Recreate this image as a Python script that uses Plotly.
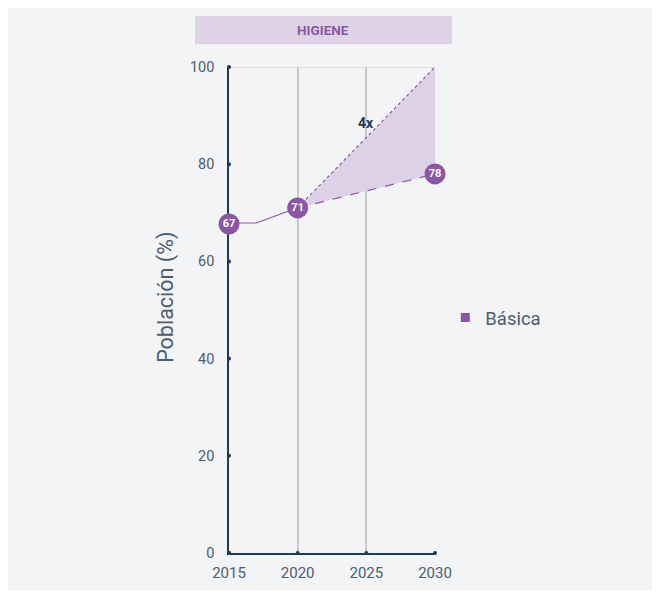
import plotly.graph_objects as go

years_hist = [2015, 2016, 2017, 2018, 2019, 2020]
vals_hist = [67.7, 67.9, 67.9, 69.0, 70.0, 71.0]
proj_years = [2020, 2030]
proj_basic = [71.0, 78.0]
proj_target = [71.0, 100.0]
label_years = [2015, 2020, 2030]
label_vals = [67.7, 71.0, 78.0]
label_text = ["67", "71", "78"]
x_ticks = [2015, 2020, 2025, 2030]
y_ticks = [0, 20, 40, 60, 80, 100]

PURPLE = "#8b57a5"
FILL = "#ddd2e5"
NAVY = "#1d3a56"
TXT = "#4d5d70"
GRID = "#c8c8cc"
FONT = "Roboto"

fig = go.Figure()

fig.add_trace(go.Scatter(x=proj_years, y=proj_basic, mode="lines",
                         line=dict(color=PURPLE, width=1.2, dash="dash"),
                         showlegend=False, hoverinfo="skip"))
fig.add_trace(go.Scatter(x=proj_years, y=proj_target, mode="lines",
                         line=dict(color=PURPLE, width=1.2, dash="dot"),
                         fill="tonexty", fillcolor=FILL,
                         showlegend=False, hoverinfo="skip"))
fig.add_trace(go.Scatter(x=years_hist, y=vals_hist, mode="lines",
                         line=dict(color=PURPLE, width=1.2),
                         showlegend=False, hoverinfo="skip"))

fig.add_trace(go.Scatter(x=x_ticks, y=[0] * len(x_ticks), mode="markers",
                         marker=dict(color=NAVY, size=4), cliponaxis=False,
                         showlegend=False, hoverinfo="skip"))
fig.add_trace(go.Scatter(x=[2015] * len(y_ticks), y=y_ticks, mode="markers",
                         marker=dict(color=NAVY, size=4), cliponaxis=False,
                         showlegend=False, hoverinfo="skip"))

fig.add_trace(go.Scatter(x=label_years, y=label_vals, mode="markers+text",
                         text=label_text, textposition="middle center",
                         textfont=dict(color="white", size=11, family=FONT, weight="bold"),
                         marker=dict(color=PURPLE, size=21), cliponaxis=False,
                         showlegend=False, hoverinfo="skip"))

fig.add_trace(go.Scatter(x=[None], y=[None], mode="markers", name="Básica",
                         marker=dict(color=PURPLE, size=9, symbol="square")))

shapes = [
    dict(type="rect", xref="paper", yref="paper", x0=-1.0825, x1=2.063, y0=-0.0761, y1=1.1255,
         fillcolor="#f3f4f6", line=dict(width=0), layer="below"),
    dict(type="rect", xref="paper", yref="paper", x0=-0.165, x1=1.0825, y0=1.047, y1=1.105,
         fillcolor="#ded3e4", line=dict(width=0), layer="below"),
    dict(type="line", xref="paper", yref="y", x0=0, x1=1, y0=100, y1=100,
         line=dict(color=GRID, width=1.2), layer="below"),
]

fig.update_layout(
    width=652, height=588,
    margin=dict(l=221, r=225, t=59, b=43),
    paper_bgcolor="white", plot_bgcolor="rgba(0,0,0,0)",
    font=dict(family=FONT, color=TXT),
    shapes=shapes,
    showlegend=True,
    legend=dict(x=1.05, y=0.4835, xanchor="left", yanchor="middle",
                font=dict(size=18.5, color=TXT, family=FONT), bgcolor="rgba(0,0,0,0)",
                itemwidth=30),
    annotations=[
        dict(text="<b>HIGIENE</b>", xref="paper", yref="paper", x=0.4587, y=1.076,
             xanchor="center", yanchor="middle",
             showarrow=False, font=dict(size=13.5, color="#8b57a5", family=FONT)),
        dict(text="<b>4x</b>", xref="x", yref="y", x=2025, y=88.5,
             showarrow=False, font=dict(size=14, color=NAVY, family=FONT)),
        dict(text="Población (%)", xref="paper", yref="paper", x=-0.306, y=0.527,
             xanchor="center", yanchor="middle", textangle=-90,
             showarrow=False, font=dict(size=21.5, color=TXT, family=FONT)),
    ],
    xaxis=dict(range=[2015, 2030], tickvals=x_ticks, showgrid=True, gridcolor=GRID,
               gridwidth=1.5, zeroline=False, showline=True, linecolor=NAVY, linewidth=1.5,
               ticks="outside", ticklen=5, tickcolor="rgba(0,0,0,0)",
               tickfont=dict(size=15, color=TXT), fixedrange=True, layer="below traces"),
    yaxis=dict(range=[0, 100], tickvals=y_ticks, showgrid=False, zeroline=False,
               showline=True, linecolor=NAVY, linewidth=1.5,
               ticks="outside", ticklen=10, tickcolor="rgba(0,0,0,0)",
               tickfont=dict(size=14.5, color=TXT),
               fixedrange=True, layer="below traces"),
)

fig.write_html("out.html")
